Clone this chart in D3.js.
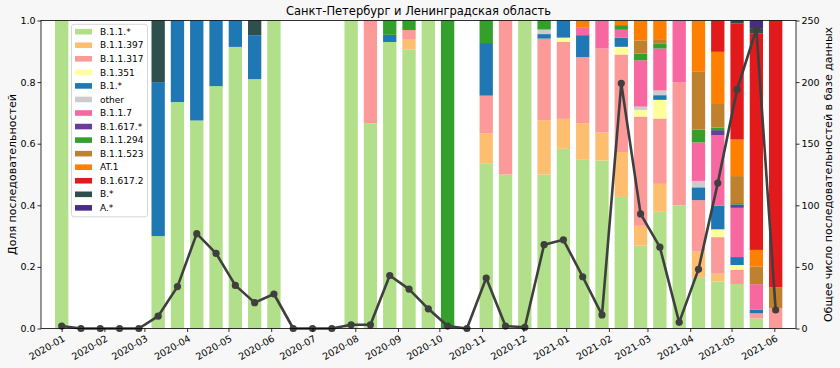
<!DOCTYPE html>
<html><head><meta charset="utf-8">
<script src="https://cdn.jsdelivr.net/npm/d3@7"></script>
<style>
body{margin:0;background:#f7f7f7;}
svg{display:block;font-family:"DejaVu Sans",sans-serif;}
</style></head><body>
<svg id="chart" width="840" height="368"></svg>
<script>
const chartTitle = "Санкт-Петербург и Ленинградская область";
const leftLabel = "Доля последовательностей";
const rightLabel = "Общее число последовательностей в базе данных";

const binDates = ["2020-01-01","2020-01-15","2020-01-29","2020-02-12","2020-02-26","2020-03-11","2020-03-25","2020-04-08","2020-04-22","2020-05-06",
  "2020-05-20","2020-06-03","2020-06-17","2020-07-01","2020-07-15","2020-07-29","2020-08-12","2020-08-26","2020-09-09","2020-09-23",
  "2020-10-07","2020-10-21","2020-11-04","2020-11-18","2020-12-02","2020-12-16","2020-12-30","2021-01-13","2021-01-27","2021-02-10",
  "2021-02-24","2021-03-10","2021-03-24","2021-04-07","2021-04-21","2021-05-05","2021-05-19","2021-06-02"];

const lineages = ["B.1.1.*","B.1.1.397","B.1.1.317","B.1.351","B.1.*","other","B.1.1.7","B.1.617.*","B.1.1.294","B.1.1.523","AT.1","B.1.617.2","B.*","A.*"];
const lineageColors = ["#b2df8a","#fdbf6f","#fb9a99","#ffff99","#1f78b4","#cccccc","#f768a1","#6a3d9a","#33a02c","#bf812d","#ff7f00","#e31a1c","#2f4f4f","#4b2c84"];

const cB11    = [2,0,0,0,0,3,25,52,48,32, 17,28,0,0,0,3,2,40,29,16, 0,0,22,1,1,34,42,23,6,85, 25,25,2,8,18,28,8,0];
const cB11397 = [0,0,0,0,0,0,0,0,0,0, 0,0,0,0,0,0,0,0,1,0, 0,0,4,0,0,12,7,5,1,29, 6,6,0,4,3,0,0,0];
const cB11317 = [0,0,0,0,0,0,0,0,0,0, 0,0,0,0,0,0,1,0,1,0, 0,0,5,1,0,18,18,9,3,63, 33,14,2,8,14,9,4,1];
const cB1351  = [0,0,0,0,0,0,0,0,0,0, 0,0,0,0,0,0,0,0,0,0, 0,0,0,0,0,0,1,0,0,5, 2,4,0,0,3,3,0,0];
const cB1     = [0,0,0,0,0,5,9,25,13,3, 3,0,0,0,0,0,0,1,0,0, 0,0,7,0,0,1,4,3,0,6, 0,1,0,2,9,5,3,0];
const cOther  = [0,0,0,0,0,0,0,0,0,0, 0,0,0,0,0,0,0,0,0,0, 0,0,0,0,0,1,0,0,0,0, 1,1,0,1,0,0,0,0];
const cB117   = [0,0,0,0,0,0,0,0,0,0, 0,0,0,0,0,0,0,0,0,0, 0,0,0,0,0,0,0,1,1,5, 14,9,1,6,27,31,20,0];
const cB1617  = [0,0,0,0,0,0,0,0,0,0, 0,0,0,0,0,0,0,0,0,0, 0,0,0,0,0,0,0,0,0,0, 0,0,0,0,2,2,0,0];
const cB11294 = [0,0,0,0,0,0,0,0,0,0, 0,0,0,0,0,0,0,2,1,0, 2,0,3,0,0,2,0,0,0,3, 2,1,0,2,1,1,0,0];
const cB11523 = [0,0,0,0,0,0,0,0,0,0, 0,0,0,0,0,0,0,0,0,0, 0,0,0,0,0,0,0,0,0,0, 4,1,0,9,9,17,14,1];
const cAT1    = [0,0,0,0,0,0,0,0,0,0, 0,0,0,0,0,0,0,0,0,0, 0,0,0,0,0,0,0,1,0,3, 6,4,0,8,20,23,13,0];
const cB16172 = [0,0,0,0,0,0,0,0,0,0, 0,0,0,0,0,0,0,0,0,0, 0,0,0,0,0,0,0,0,0,0, 0,0,0,0,12,73,171,13];
const cBstar  = [0,0,0,0,0,2,0,0,0,0, 1,0,0,0,0,0,0,0,0,0, 0,0,0,0,0,0,0,0,0,0, 0,0,0,0,0,2,4,0];
const cAstar  = [0,0,0,0,0,0,0,0,0,0, 0,0,0,0,0,0,0,0,0,0, 0,0,0,0,0,0,0,0,0,0, 0,0,0,0,0,0,6,0];

const totals  = [2,0,0,0,0,10,34,77,61,35, 21,28,0,0,0,3,3,43,32,16, 2,0,41,2,1,68,72,42,11,199, 93,66,5,48,118,194,243,15];

const leftTicks = [0,0.2,0.4,0.6,0.8,1.0];
const rightTicks = [0,50,100,150,200,250];

const seriesCounts = [cB11,cB11397,cB11317,cB1351,cB1,cOther,cB117,cB1617,cB11294,cB11523,cAT1,cB16172,cBstar,cAstar];

const parse = d3.utcParse("%Y-%m-%d");
const dates = binDates.map(parse);

const rows = dates.map((d,i)=>{
  const r = {date:d, total: totals[i]};
  lineages.forEach((l,k)=>{ r[l] = totals[i] > 0 ? seriesCounts[k][i]/totals[i] : 0; });
  return r;
});

const L = 41, R = 796, T = 20.5, B = 328.5;
const svg = d3.select("#chart");

const x = d3.scaleUtc().domain([new Date(Date.UTC(2019,11,17)), new Date(Date.UTC(2021,5,16,18))]).range([L,R]);
const yL = d3.scaleLinear().domain([0,1]).range([B,T]);
const yR = d3.scaleLinear().domain([0,250]).range([B,T]);

svg.append("rect").attr("x",L).attr("y",T).attr("width",R-L).attr("height",B-T).attr("fill","#ffffff");

const step = x(dates[1]) - x(dates[0]);
const bw = step * 0.69;

const stack = d3.stack().keys(lineages)(rows);
const colorOf = d3.scaleOrdinal().domain(lineages).range(lineageColors);

svg.append("g").selectAll("g").data(stack).join("g")
  .attr("fill", s => colorOf(s.key))
  .selectAll("rect").data(s => s.filter(p => p[1] - p[0] > 0)).join("rect")
  .attr("x", p => x(p.data.date) - bw/2)
  .attr("width", bw)
  .attr("y", p => yL(p[1]))
  .attr("height", p => yL(p[0]) - yL(p[1]));

// line
const line = d3.line().x(d => x(d.date)).y(d => yR(d.total));
svg.append("path").datum(rows).attr("d", line).attr("fill","none")
  .attr("stroke","#3f3f3f").attr("stroke-width",2.6).attr("stroke-linejoin","round");
svg.append("g").selectAll("circle").data(rows).join("circle")
  .attr("cx", d => x(d.date)).attr("cy", d => yR(d.total)).attr("r",3.6).attr("fill","#3f3f3f");

// axes
const fontSize = 9.5;
const xAxis = d3.axisBottom(x).ticks(d3.utcMonth.every(1)).tickFormat(d3.utcFormat("%Y-%m")).tickSize(3.5).tickSizeOuter(0);
const gx = svg.append("g").attr("transform",`translate(0,${B})`).call(xAxis);
gx.select(".domain").remove();
gx.selectAll("line").attr("stroke","#000").attr("stroke-width",0.8);
gx.selectAll(".tick text").each(function(){
  d3.select(this).attr("y",null).attr("x",null).attr("dy","0.35em")
    .attr("font-size",fontSize).attr("fill","#000").attr("font-family","DejaVu Sans")
    .attr("text-anchor","end")
    .attr("transform","translate(2,9) rotate(-30)");
});

const gl = svg.append("g").attr("transform",`translate(${L},0)`)
  .call(d3.axisLeft(yL).tickValues(leftTicks).tickFormat(d3.format(".1f")).tickSize(3.5).tickSizeOuter(0));
gl.select(".domain").remove();
gl.selectAll("line").attr("stroke","#000").attr("stroke-width",0.8);
gl.selectAll("text").attr("font-size",fontSize).attr("fill","#000").attr("font-family","DejaVu Sans").attr("x",-5.5);

const gr = svg.append("g").attr("transform",`translate(${R},0)`)
  .call(d3.axisRight(yR).tickValues(rightTicks).tickSize(3.5).tickSizeOuter(0));
gr.select(".domain").remove();
gr.selectAll("line").attr("stroke","#000").attr("stroke-width",0.8);
gr.selectAll("text").attr("font-size",fontSize).attr("fill","#000").attr("font-family","DejaVu Sans").attr("x",5.5);

// frame
svg.append("rect").attr("x",L).attr("y",T).attr("width",R-L).attr("height",B-T)
  .attr("fill","none").attr("stroke","#000").attr("stroke-width",0.8);

// title and labels
svg.append("text").attr("x",(L+R)/2).attr("y",15).attr("text-anchor","middle")
  .attr("font-size",11.5).attr("fill","#000").text(chartTitle);
svg.append("text").attr("transform",`translate(15.5,${(T+B)/2}) rotate(-90)`).attr("text-anchor","middle")
  .attr("font-size",11).attr("fill","#000").text(leftLabel);
svg.append("text").attr("transform",`translate(832,${(T+B)/2}) rotate(-90)`).attr("text-anchor","middle")
  .attr("font-size",11).attr("fill","#000").text(rightLabel);

// legend
const lg = svg.append("g");
const lgX = 71.5, lgY = 24.3, lgW = 76, lgH = 192.5, rowH = 13.55;
lg.append("rect").attr("x",lgX).attr("y",lgY).attr("width",lgW).attr("height",lgH).attr("rx",2.5)
  .attr("fill","#ffffff").attr("fill-opacity",0.85).attr("stroke","#cccccc").attr("stroke-width",0.8);
const items = lg.selectAll("g.item").data(lineages).join("g").attr("class","item")
  .attr("transform",(d,i)=>`translate(0,${lgY + 7.4 + i*rowH})`);
items.append("rect").attr("x",lgX+3.5).attr("y",-2.8).attr("width",17).attr("height",5.6).attr("fill",d=>colorOf(d));
items.append("text").attr("x",lgX+28.5).attr("y",0).attr("dy","0.35em").attr("font-size",9).attr("fill","#000").text(d=>d);
</script>
</body></html>
